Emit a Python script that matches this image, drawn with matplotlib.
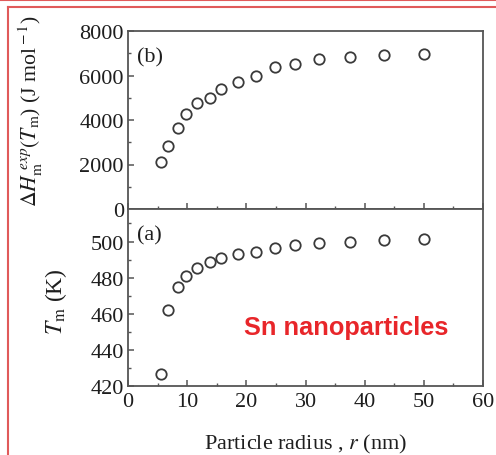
import matplotlib
matplotlib.use("Agg")
import matplotlib.pyplot as plt
from matplotlib.lines import Line2D
from matplotlib.ticker import MultipleLocator

plt.rcParams['font.family'] = ['Liberation Serif', 'DejaVu Serif']
plt.rcParams['mathtext.fontset'] = 'stix'

radius = [5.5, 6.7, 8.4, 9.85, 11.7, 13.8, 15.7, 18.6, 21.6, 24.8, 28.3, 32.3, 37.6, 43.2, 50.0]
enthalpy = [2100, 2840, 3630, 4290, 4770, 5010, 5410, 5710, 5990, 6400, 6500, 6730, 6820, 6940, 6980]
tmelt = [426.5, 462.0, 474.6, 480.7, 485.2, 488.9, 490.9, 493.0, 494.4, 496.5, 497.8, 499.0, 500.0, 500.9, 501.3]

fig = plt.figure(figsize=(4.96, 4.56), dpi=100)
L, R = 128/496, 483/496
ytop, ymid, ybot = 1-32/456, 1-210/456, 1-387/456
ax1 = fig.add_axes([L, ymid, R-L, ytop-ymid])
ax2 = fig.add_axes([L, ybot, R-L, ymid-ybot], sharex=ax1)

frame = '#555555'
txt = '#1e1e1e'
mk = dict(ls='none', marker='o', ms=7.5, mfc='none', mec='#3a3a3a', mew=1.3)
ax1.plot(radius, enthalpy, **mk)
ax2.plot(radius, tmelt, **mk)

ax1.set_xlim(0, 60)
ax1.set_ylim(0, 8000)
ax2.set_ylim(420, 518)

for ax in (ax1, ax2):
    for s in ax.spines.values():
        s.set_color(frame)
        s.set_linewidth(1.3)
    ax.tick_params(direction='in', which='both', top=False, right=False,
                   colors=frame, labelcolor=txt, labelsize=16)
    ax.tick_params(which='major', length=4, width=1.1)
    ax.tick_params(which='minor', length=2.5, width=1.0)
    ax.xaxis.set_major_locator(MultipleLocator(10))
    ax.xaxis.set_minor_locator(MultipleLocator(5))

ax1.yaxis.set_major_locator(MultipleLocator(2000))
ax1.yaxis.set_minor_locator(MultipleLocator(1000))
ax2.yaxis.set_major_locator(MultipleLocator(20))
ax2.yaxis.set_minor_locator(MultipleLocator(10))
ax1.tick_params(axis='x', labelbottom=False)
ax1.tick_params(axis='y', pad=3)
ax2.tick_params(axis='y', pad=3)
ax2.tick_params(axis='x', pad=4)

ax1.set_ylabel(r'$\mathit{\Delta H}_{\rm m}^{\ exp}(T_{\rm m}$) (J mol$^{\rm -1}$)', fontsize=15.7, color=txt)
ax2.set_ylabel(r'$T_{\rm m}$ (K)', fontsize=17, color=txt)
ax2.set_xlabel(r'Particle radius , $r$ (nm)', fontsize=16, color=txt)
ax1.yaxis.set_label_coords(-0.235, 0.555)
ax2.yaxis.set_label_coords(-0.165, 0.48)
ax2.xaxis.set_label_coords(0.5, -0.26)

ax1.text(0.025, 0.83, '(b)', transform=ax1.transAxes, fontsize=16, color=txt)
ax2.text(0.025, 0.83, '(a)', transform=ax2.transAxes, fontsize=16, color=txt)
ax2.text(0.614, 0.333, 'Sn nanoparticles', transform=ax2.transAxes, fontsize=18.3,
         fontweight='bold', color='#e8262a', ha='center', va='center',
         family=['Liberation Sans', 'DejaVu Sans'])

red = '#e05a5a'
fig.add_artist(Line2D([0, 1], [1-0.5/456, 1-0.5/456], transform=fig.transFigure, color=red, lw=1.5))
fig.add_artist(Line2D([8/496, 1], [1-8/456, 1-8/456], transform=fig.transFigure, color=red, lw=1.5))
fig.add_artist(Line2D([8/496, 8/496], [0, 1-8/456], transform=fig.transFigure, color=red, lw=1.5))

fig.savefig('out.png', dpi=100)
